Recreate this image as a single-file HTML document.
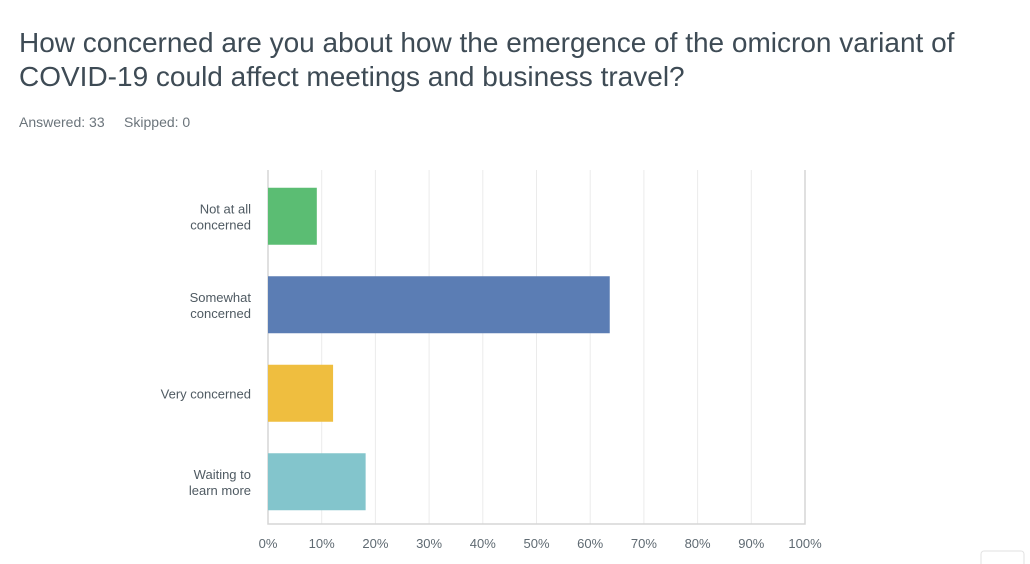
<!DOCTYPE html>
<html><head><meta charset="utf-8"><style>
body{margin:0;width:1030px;height:564px;background:#fff;overflow:hidden;font-family:"Liberation Sans",sans-serif;}
#title{position:absolute;left:19px;top:26px;font-size:28px;line-height:34px;color:#3e4b55;width:1000px;}
#meta{position:absolute;left:19px;top:114px;font-size:14px;color:#6b747b;}
</style></head><body>
<div id="title">How concerned are you about how the emergence of the omicron variant of COVID-19 could affect meetings and business travel?</div>
<div id="meta">Answered: 33&nbsp;&nbsp;&nbsp;&nbsp;&nbsp;Skipped: 0</div>
<svg id="chart" width="1030" height="564" style="position:absolute;left:0;top:0"></svg>
<script>
const categories=[["Not at all","concerned"],["Somewhat","concerned"],["Very concerned"],["Waiting to","learn more"]];
const values=[9.09,63.64,12.12,18.18];
const colors=["#5bbd73","#5b7db4","#efbe3f","#83c5cc"];
const ticks=[0,10,20,30,40,50,60,70,80,90,100];
const svg=document.getElementById('chart');
const NS='http://www.w3.org/2000/svg';
const x0=268,x1=805,yTop=170,yBot=524;
const xs=v=>x0+(x1-x0)*v/100;
const band=(yBot-yTop)/categories.length;
function mk(t,a){const e=document.createElementNS(NS,t);for(const k in a)e.setAttribute(k,a[k]);svg.appendChild(e);return e;}
ticks.forEach((t,i)=>{
  if(t>0){const g=mk('line',{x1:xs(t),x2:xs(t),y1:yTop,y2:yBot,stroke:'#ebebeb','stroke-width':1});
  
  }
  const l=mk('text',{x:xs(t),y:548,'text-anchor':'middle','font-size':13,fill:'#5f6a72'});
  l.textContent=t+'%';
  
  
});
const ax=mk('polyline',{points:`${x0},${yTop} ${x0},${yBot} ${x1},${yBot} ${x1},${yTop}`,fill:'none',stroke:'#d6d6d6','stroke-width':1.5});


categories.forEach((c,i)=>{
  const cy=yTop+band*(i+0.5)+2;
  const h=57;
  const r=mk('rect',{x:x0,y:cy-h/2,width:xs(values[i])-x0,height:h,fill:colors[i]});
  
  
  c.forEach((line,j)=>{
    const t=mk('text',{x:251,y:cy+5+(j-(c.length-1)/2)*16,'text-anchor':'end','font-size':13,fill:'#4f5a62'});
    t.textContent=line;
    
    
  });
});
const bx=mk('rect',{x:981,y:551,width:43,height:20,rx:3,fill:'#fff',stroke:'#e2e2e2'});


</script>
</body></html>
